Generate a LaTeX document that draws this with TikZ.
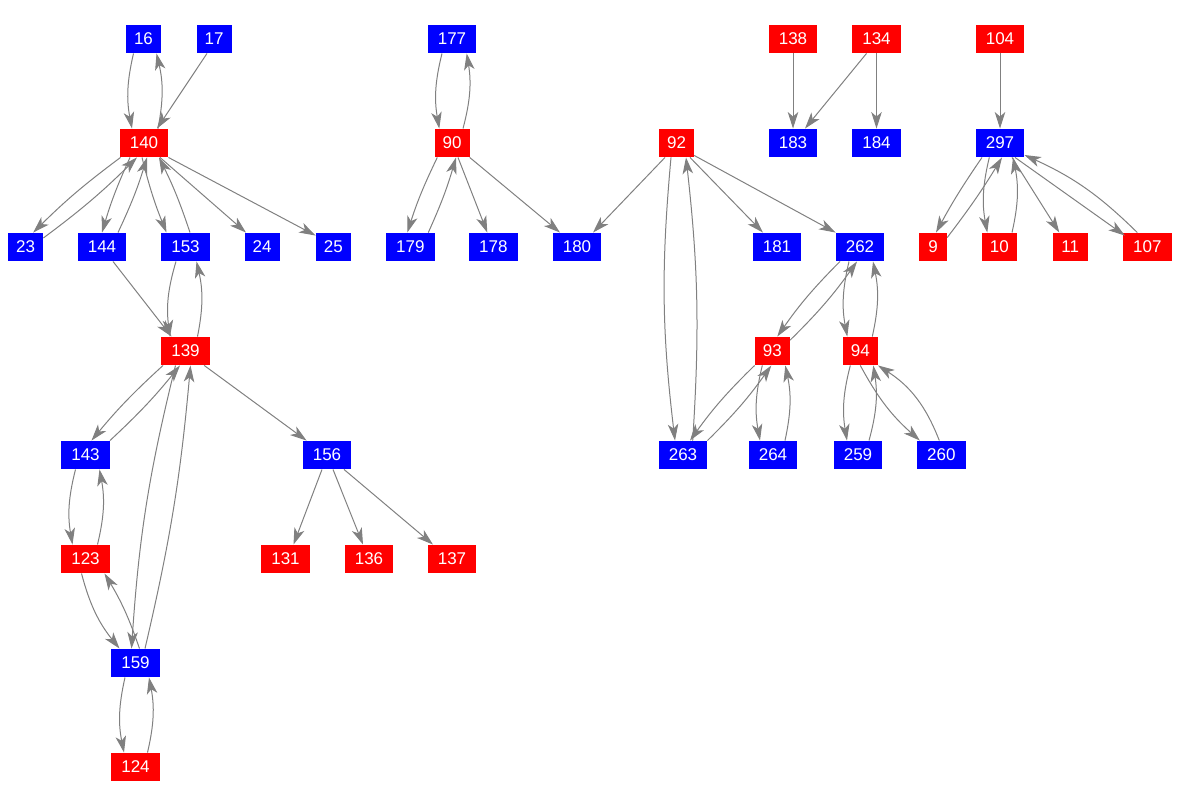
\documentclass[tikz,border=0pt]{standalone}
\usepackage{fontspec}
\setmainfont{Liberation Sans}
\usetikzlibrary{arrows.meta}
\tikzset{
  nd/.style={rectangle, inner sep=0pt, minimum height=28.5pt, text=white, font=\fontsize{17}{17}\selectfont},
  bn/.style={nd, fill=blue},
  rn/.style={nd, fill=red},
  wa/.style={minimum width=28pt},
  wb/.style={minimum width=35pt},
  wc/.style={minimum width=48.5pt},
  e/.style={draw=gray, line width=1pt, -{Stealth[length=16.5pt,width=10.5pt,inset=4.5pt]}},
}
\begin{document}
\begin{tikzpicture}[x=1pt,y=-1pt]
\useasboundingbox (0,0) rectangle (1180,808);
% row 1
\node[bn,wb] (n16) at (143.5,39) {16};
\node[bn,wb] (n17) at (214,39) {17};
\node[bn,wc] (n177) at (452,39) {177};
\node[rn,wc] (n138) at (793,39) {138};
\node[rn,wc] (n134) at (876.5,39) {134};
\node[rn,wc] (n104) at (1000,39) {104};
% row 2
\node[rn,wc] (n140) at (144,143) {140};
\node[rn,wb] (n90) at (452,143) {90};
\node[rn,wb] (n92) at (676.5,143) {92};
\node[bn,wc] (n183) at (793,143) {183};
\node[bn,wc] (n184) at (876.5,143) {184};
\node[bn,wc] (n297) at (1000,143) {297};
% row 3
\node[bn,wb] (n23) at (25.7,247) {23};
\node[bn,wc] (n144) at (102,247) {144};
\node[bn,wc] (n153) at (185.5,247) {153};
\node[bn,wb] (n24) at (262,247) {24};
\node[bn,wb] (n25) at (333.3,247) {25};
\node[bn,wc] (n179) at (410.3,247) {179};
\node[bn,wc] (n178) at (493.3,247) {178};
\node[bn,wc] (n180) at (577,247) {180};
\node[bn,wc] (n181) at (777,247) {181};
\node[bn,wc] (n262) at (860,247) {262};
\node[rn,wa] (n9) at (933,247) {9};
\node[rn,wb] (n10) at (999.3,247) {10};
\node[rn,wb] (n11) at (1070.3,247) {11};
\node[rn,wc] (n107) at (1147.3,247) {107};
% row 4
\node[rn,wc] (n139) at (185.5,351) {139};
\node[rn,wb] (n93) at (772.3,351) {93};
\node[rn,wb] (n94) at (860.3,351) {94};
% row 5
\node[bn,wc] (n143) at (85.5,455) {143};
\node[bn,wc] (n156) at (327,455) {156};
\node[bn,wc] (n263) at (683,455) {263};
\node[bn,wc] (n264) at (773,455) {264};
\node[bn,wc] (n259) at (858,455) {259};
\node[bn,wc] (n260) at (941.3,455) {260};
% row 6
\node[rn,wc] (n123) at (85.5,559) {123};
\node[rn,wc] (n131) at (285.5,559) {131};
\node[rn,wc] (n136) at (369,559) {136};
\node[rn,wc] (n137) at (452,559) {137};
% row 7, 8
\node[bn,wc] (n159) at (135.5,663) {159};
\node[rn,wc] (n124) at (135.5,767) {124};

% component 1
\draw[e] ([xshift=-10pt]n16.south) to[bend right=12] ([xshift=-12pt]n140.north);
\draw[e] ([xshift=14pt]n140.north) to[bend right=12] ([xshift=13pt]n16.south);
\draw[e] ([xshift=-7pt]n17.south) -- ([xshift=13pt]n140.north);
\draw[e] ([xshift=1pt]n140.south west) to[bend right=4] ([xshift=7.5pt]n23.north);
\draw[e] ([yshift=9pt]n23.east) to[bend right=4] ([xshift=-7pt]n140.south);
\draw[e] ([xshift=-14pt]n140.south) to[bend right=4] (n144.north);
\draw[e] ([xshift=16pt]n144.north) to[bend right=4] ([xshift=3pt]n140.south);
\draw[e] ([xshift=-2pt]n140.south) to[bend right=4] ([xshift=-19pt]n153.north);
\draw[e] ([xshift=4.5pt]n153.north) to[bend right=4] ([xshift=15pt]n140.south);
\draw[e] ([xshift=16pt]n140.south) -- ([xshift=-16pt]n24.north);
\draw[e] (n140.south east) -- ([yshift=-3pt]n25.north west);
\draw[e] ([xshift=11pt]n144.south) -- ([xshift=-14pt]n139.north);
\draw[e] ([xshift=-9.5pt]n153.south) to[bend right=12] ([xshift=-15.5pt]n139.north);
\draw[e] ([xshift=12pt]n139.north) to[bend right=12] ([xshift=11pt]n153.south);
\draw[e] ([xshift=2pt]n139.south west) to[bend right=4] ([xshift=6pt]n143.north);
\draw[e] (n143.north east) to[bend right=4] ([xshift=-5.5pt]n139.south);
\draw[e] ([xshift=-10pt]n139.south) to[bend right=5] ([xshift=-4pt]n159.north);
\draw[e] ([xshift=9.5pt]n159.north) to[bend right=4] ([xshift=5pt]n139.south);
\draw[e] ([xshift=-10pt]n143.south) to[bend right=12] ([xshift=-13pt]n123.north);
\draw[e] ([xshift=12pt]n123.north) to[bend right=12] ([xshift=14pt]n143.south);
\draw[e] ([xshift=-4pt]n123.south) to[bend right=12] ([xshift=-16pt]n159.north);
\draw[e] ([xshift=4pt]n159.north) to[bend right=6] ([xshift=19pt]n123.south);
\draw[e] ([xshift=-10.5pt]n159.south) to[bend right=12] ([xshift=-11.5pt]n124.north);
\draw[e] ([xshift=12pt]n124.north) to[bend right=12] ([xshift=13.5pt]n159.south);
\draw[e] ([xshift=-5.75pt]n139.south east) -- ([xshift=4pt]n156.north west);
\draw[e] ([xshift=-5pt]n156.south) -- ([xshift=8pt]n131.north);
\draw[e] ([xshift=6pt]n156.south) -- ([xshift=-6pt]n136.north);
\draw[e] ([xshift=17pt]n156.south) -- ([xshift=-19pt]n137.north);

% component 2
\draw[e] ([xshift=-10pt]n177.south) to[bend right=12] ([xshift=-12.7pt]n90.north);
\draw[e] ([xshift=11pt]n90.north) to[bend right=12] ([xshift=14.7pt]n177.south);
\draw[e] ([xshift=-14.7pt]n90.south) to[bend right=4] ([xshift=-3pt]n179.north);
\draw[e] ([xshift=18pt]n179.north) to[bend right=4] ([xshift=4pt]n90.south);
\draw[e] ([xshift=6pt]n90.south) -- ([xshift=-6pt]n178.north);
\draw[e] (n90.south east) -- ([xshift=-17pt]n180.north);
\draw[e] ([xshift=-11.5pt]n92.south) -- ([xshift=16pt]n180.north);
\draw[e] ([xshift=-5.5pt]n92.south) to[bend right=6] ([xshift=-8pt]n263.north);
\draw[e] ([xshift=9.7pt]n263.north) to[bend right=5] ([xshift=9.5pt]n92.south);
\draw[e] ([xshift=13.5pt]n92.south) -- ([xshift=-14pt]n181.north);
\draw[e] ([yshift=2pt]n92.south east) -- (n262.north west);
\draw[e] ([xshift=-20pt]n262.south) to[bend right=5] ([xshift=5pt]n93.north);
\draw[e] ([yshift=-3.7pt]n93.north east) to[bend right=5] ([xshift=-3pt]n262.south);
\draw[e] ([xshift=-11pt]n262.south) to[bend right=12] ([xshift=-13pt]n94.north);
\draw[e] ([xshift=12pt]n94.north) to[bend right=12] ([xshift=13pt]n262.south);
\draw[e] (n93.south west) to[bend right=5] ([xshift=7pt]n263.north);
\draw[e] (n263.north east) to[bend right=5] ([xshift=-1pt]n93.south);
\draw[e] ([xshift=-10pt]n93.south) to[bend right=12] ([xshift=-13pt]n264.north);
\draw[e] ([xshift=12pt]n264.north) to[bend right=12] ([xshift=13pt]n93.south);
\draw[e] ([xshift=-10pt]n94.south) to[bend right=12] ([xshift=-11pt]n259.north);
\draw[e] ([xshift=11pt]n259.north) to[bend right=12] ([xshift=13pt]n94.south);
\draw[e] (n94.south) to[bend right=10] ([xshift=3pt]n260.north west);
\draw[e] ([xshift=-2pt]n260.north) to[bend right=18] (n94.south east);

% component 3
\draw[e] (n138.south) -- (n183.north);
\draw[e] ([xshift=-10pt]n134.south) -- ([xshift=12pt]n183.north);
\draw[e] (n134.south) -- (n184.north);
\draw[e] (n104.south) -- (n297.north);
\draw[e] ([xshift=-18pt]n297.south) to[bend right=3] ([xshift=3pt]n9.north);
\draw[e] ([yshift=-5pt]n9.north east) to[bend right=3] ([xshift=2pt]n297.south);
\draw[e] ([xshift=-10.7pt]n297.south) to[bend right=12] ([xshift=-12pt]n10.north);
\draw[e] ([xshift=12.7pt]n10.north) to[bend right=12] ([xshift=13pt]n297.south);
\draw[e] ([xshift=12pt]n297.south) -- ([xshift=-11pt]n11.north);
\draw[e] ([xshift=15pt]n297.south) -- ([xshift=2pt,yshift=-3pt]n107.north west);
\draw[e] ([xshift=-10pt]n107.north) to[bend right=10] ([yshift=-12pt]n297.east);
\end{tikzpicture}
\end{document}
